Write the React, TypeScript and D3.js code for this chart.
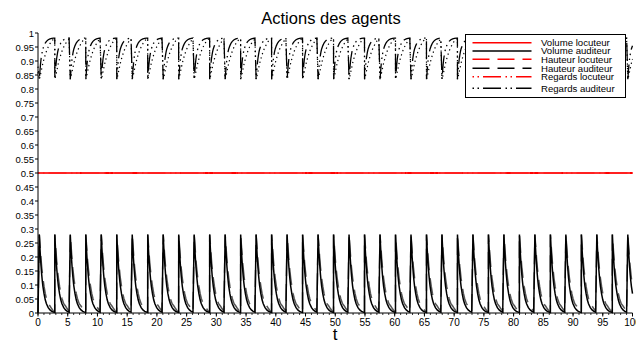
import React from "react";
import * as d3 from "d3";

const W = 636;
const H = 345;

// x positions (t) of each spike
const spikeTimes = [
  0.22, 2.83, 5.43, 8.04, 10.64, 13.25, 15.85, 18.46, 21.06, 23.67, 26.27, 28.88,
  31.48, 34.09, 36.69, 39.3, 41.9, 44.51, 47.11, 49.72, 52.32, 54.93, 57.53, 60.14,
  62.74, 65.35, 67.95, 70.56, 73.16, 75.77, 78.37, 80.98, 83.58, 86.19, 88.79, 91.4,
  94.0, 96.61, 99.21,
];

// time since the last spike at which one cycle's values were read
const cycleDt = [0, 0.1, 0.2, 0.3, 0.4, 0.5, 0.6, 0.8, 1.0, 1.2, 1.5, 1.8, 2.1, 2.4, 2.6];

// one cycle of each auditeur series
const volumeAuditeurCycle = [0.28, 0.235, 0.197, 0.165, 0.138, 0.115, 0.096, 0.068, 0.047, 0.033, 0.019, 0.011, 0.006, 0.003, 0.002];
const hauteurAuditeurCycle = [0.28, 0.25, 0.22, 0.19, 0.165, 0.145, 0.125, 0.095, 0.07, 0.052, 0.033, 0.025, 0.015, 0.006, 0.003];
const regardsAuditeurCycle = [0.835, 0.862, 0.888, 0.908, 0.922, 0.934, 0.943, 0.955, 0.964, 0.97, 0.976, 0.979, 0.981, 0.982, 0.982];
const regardsAuditeurBisCycle = [0.835, 0.842, 0.852, 0.862, 0.872, 0.882, 0.892, 0.908, 0.922, 0.935, 0.95, 0.962, 0.972, 0.978, 0.98];

// locuteur series (constant)
const volumeLocuteur = 0.5;
const hauteurLocuteur = 0.5;
const regardsLocuteur = 0.5;

const xTickValues = [0, 5, 10, 15, 20, 25, 30, 35, 40, 45, 50, 55, 60, 65, 70, 75, 80, 85, 90, 95, 100];
const xMinorTickValues = d3.range(0, 101, 1);
const yTickValues = [0, 0.05, 0.1, 0.15, 0.2, 0.25, 0.3, 0.35, 0.4, 0.45, 0.5, 0.55, 0.6, 0.65, 0.7, 0.75, 0.8, 0.85, 0.9, 0.95, 1];

const legendLabels = [
  "Volume locuteur",
  "Volume auditeur",
  "Hauteur locuteur",
  "Hauteur auditeur",
  "Regards locuteur",
  "Regards auditeur",
];

const x = d3.scaleLinear().domain([0, 100]).range([38, 632.5]);
const y = d3.scaleLinear().domain([0, 1]).range([313, 33]);

function buildSeries(cycle: number[], start: number): [number, number][] {
  const pts: [number, number][] = [[0, start]];
  spikeTimes.forEach((t0, i) => {
    const next = i + 1 < spikeTimes.length ? spikeTimes[i + 1] : 100;
    cycleDt.forEach((dt, j) => {
      const t = t0 + dt;
      if (t < next - 0.001 && t <= 100) pts.push([t, cycle[j]]);
    });
    if (i === spikeTimes.length - 1) {
      const dt = 100 - t0;
      let k = 0;
      while (k < cycleDt.length - 1 && cycleDt[k + 1] < dt) k++;
      const f = (dt - cycleDt[k]) / (cycleDt[k + 1] - cycleDt[k]);
      pts.push([100, cycle[k] + f * (cycle[k + 1] - cycle[k])]);
    }
  });
  return pts;
}

const line = d3
  .line<[number, number]>()
  .x((d) => x(d[0]))
  .y((d) => y(d[1]));

const FONT = "'Liberation Sans', Arial, sans-serif";

const styles = [
  { color: "#ff0000", dash: undefined as string | undefined },
  { color: "#000000", dash: undefined },
  { color: "#ff0000", dash: "17 8" },
  { color: "#000000", dash: "17 8" },
  { color: "#ff0000", dash: "1.5 3.5 1.5 4 18 4.5" },
  { color: "#000000", dash: "1.5 3.5 1.5 4 18 4.5" },
];

export default function App() {
  const vol = buildSeries(volumeAuditeurCycle, 0);
  const haut = buildSeries(hauteurAuditeurCycle, 0);
  const reg = buildSeries(regardsAuditeurCycle, 0.86);
  const regBis = buildSeries(regardsAuditeurBisCycle, 0.88);
  const flat = (v: number): [number, number][] => [[0, v], [100, v]];

  const legendRowY = [42.7, 51, 59.3, 68.3, 76.7, 88.3];

  return (
    <svg
      width={W}
      height={H}
      style={{ position: "absolute", left: 0, top: 0, background: "#fff" }}
      fontFamily={FONT}
    >
      <rect x={0} y={0} width={W} height={H} fill="#fff" />
      <text x={331} y={24} textAnchor="middle" fontSize={16.5} fill="#000">
        Actions des agents
      </text>

      {/* red locuteur lines at 0.5 */}
      <path d={line(flat(volumeLocuteur)) || ""} stroke="#ff0000" strokeWidth={2} fill="none" />
      <path d={line(flat(hauteurLocuteur)) || ""} stroke="#ff3030" strokeWidth={2} fill="none" strokeDasharray="17 8" />
      <path d={line(flat(regardsLocuteur)) || ""} stroke="#ff2020" strokeWidth={2} fill="none" strokeDasharray="1.5 3.5 1.5 4 18 4.5" />

      {/* auditeur lines */}
      <path d={line(haut) || ""} stroke="#555" strokeWidth={1.5} fill="none" strokeDasharray="17 8" />
      <path d={line(vol) || ""} stroke="#000" strokeWidth={1.5} fill="none" />
      <path d={line(regBis) || ""} stroke="#000" strokeWidth={1.2} fill="none" strokeDasharray="1.3 3.2" />
      <path d={line(reg) || ""} stroke="#000" strokeWidth={1.3} fill="none" strokeDasharray="1.5 3.5 1.5 4 18 4.5" />

      {/* axes */}
      <line x1={x(0)} x2={x(100)} y1={y(0)} y2={y(0)} stroke="#000" strokeWidth={1} />
      <line x1={x(0)} x2={x(0)} y1={y(0)} y2={y(1)} stroke="#000" strokeWidth={1} />
      {xMinorTickValues.map((v) => (
        <line key={"xm" + v} x1={x(v)} x2={x(v)} y1={y(0)} y2={y(0) + 2} stroke="#000" strokeWidth={0.8} />
      ))}
      {xTickValues.map((v) => (
        <g key={"x" + v}>
          <line x1={x(v)} x2={x(v)} y1={y(0)} y2={y(0) + 3.5} stroke="#000" strokeWidth={1} />
          <text x={x(v)} y={325.5} textAnchor="middle" fontSize={10} fill="#000">
            {v}
          </text>
        </g>
      ))}
      {yTickValues.map((v) => (
        <g key={"y" + v}>
          <line x1={x(0) - 3} x2={x(0)} y1={y(v)} y2={y(v)} stroke="#000" strokeWidth={1} />
          <text x={34} y={y(v) + 3.5} textAnchor="end" fontSize={9.5} fill="#000">
            {String(v)}
          </text>
        </g>
      ))}
      <text x={335} y={340} textAnchor="middle" fontSize={17} fill="#000">
        t
      </text>

      {/* legend */}
      <rect x={465.5} y={34.5} width={160} height={63} fill="#fff" stroke="#000" strokeWidth={1} />
      {legendLabels.map((lab, i) => (
        <g key={lab}>
          <line
            x1={472.5}
            x2={531.5}
            y1={legendRowY[i]}
            y2={legendRowY[i]}
            stroke={styles[i].color}
            strokeWidth={1.6}
            strokeDasharray={styles[i].dash}
          />
          <text x={541} y={legendRowY[i] + 3.3} fontSize={9.6} fill="#000">
            {lab}
          </text>
        </g>
      ))}
    </svg>
  );
}
